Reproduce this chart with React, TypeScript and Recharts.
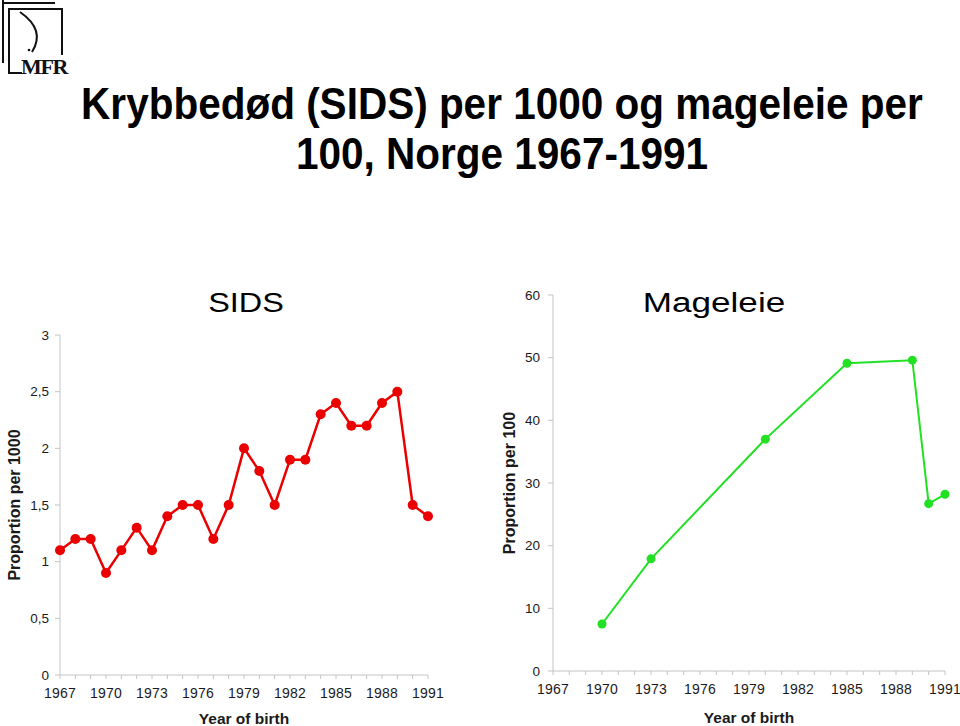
import React from 'react';
import { LineChart, Line, XAxis, YAxis } from 'recharts';

// SIDS per 1000 births, Norway
const sidsYears = [
  1967, 1968, 1969, 1970, 1971, 1972, 1973, 1974, 1975, 1976, 1977, 1978, 1979,
  1980, 1981, 1982, 1983, 1984, 1985, 1986, 1987, 1988, 1989, 1990, 1991,
];
const sidsValues = [
  1.1, 1.2, 1.2, 0.9, 1.1, 1.3, 1.1, 1.4, 1.5, 1.5, 1.2, 1.5, 2.0,
  1.8, 1.5, 1.9, 1.9, 2.3, 2.4, 2.2, 2.2, 2.4, 2.5, 1.5, 1.4,
];

// Mageleie (prone sleeping) per 100
const magYears = [1970, 1973, 1980, 1985, 1989, 1990, 1991];
const magValues = [7.5, 17.9, 37.0, 49.1, 49.6, 26.7, 28.2];

const sidsTicks = [0, 0.5, 1, 1.5, 2, 2.5, 3];
const magTicks = [0, 10, 20, 30, 40, 50, 60];

const sidsData = sidsYears.map((year, i) => ({ year, value: sidsValues[i] }));
const magData = magYears.map((year, i) => ({ year, value: magValues[i] }));

const axisGray = '#c4c4c4';
const textColor = '#1a1a1a';
const font = '"Liberation Sans", Arial, Helvetica, sans-serif';

const yearTick = (props: any) => {
  const { x, y, payload } = props;
  if ((payload.value - 1967) % 3 !== 0) return <g />;
  return (
    <text x={x} y={y} dy="0.71em" textAnchor="middle" fontSize={14} letterSpacing={0.2} fill={textColor}>
      {payload.value}
    </text>
  );
};

const comma = (v: number) => String(v).replace('.', ',');

const Logo = () => (
  <svg width={80} height={80} style={{ position: 'absolute', left: 0, top: 0 }}>
    <g stroke="#111" strokeWidth={2} fill="none">
      <line x1={3} y1={0} x2={3} y2={63} />
      <line x1={2} y1={3} x2={55} y2={3} />
      <line x1={9} y1={8} x2={9} y2={74} />
      <line x1={8} y1={9} x2={63} y2={9} />
      <line x1={62} y1={8} x2={62} y2={55} />
      <line x1={8} y1={73} x2={22} y2={73} />
      <path d="M20 12 Q46 30 32 52" strokeWidth={2} />
    </g>
    <circle cx={29} cy={50} r={1.3} fill="#111" />
    <text x={21} y={74} fontFamily='"Liberation Serif", "Times New Roman", serif' fontWeight="bold" fontSize={22} letterSpacing={-1.3} fill="#111">
      MFR
    </text>
  </svg>
);

export default function App() {
  return (
    <div style={{ position: 'absolute', left: 0, top: 0, width: 960, height: 726, background: '#fff', fontFamily: font, color: '#000', overflow: 'hidden' }}>
      <Logo />

      <div style={{ position: 'absolute', left: 2, top: 79, width: 1000, textAlign: 'center', whiteSpace: 'nowrap', fontSize: 45, fontWeight: 'bold', lineHeight: '50px', transform: 'scaleX(0.9)' }}>
        Krybbedød (SIDS) per 1000 og mageleie per
        <br />
        100, Norge 1967-1991
      </div>

      <div style={{ position: 'absolute', left: 146, top: 286, width: 200, textAlign: 'center', fontSize: 27, lineHeight: '34px', transform: 'scaleX(1.2)' }}>
        SIDS
      </div>
      <div style={{ position: 'absolute', left: 614, top: 286, width: 200, textAlign: 'center', fontSize: 27, lineHeight: '34px', transform: 'scaleX(1.3)' }}>
        Mageleie
      </div>

      <div style={{ position: 'absolute', left: 0, top: 300 }}>
        <LineChart width={470} height={426} data={sidsData} margin={{ top: 35, right: 42, bottom: 0, left: 0 }}>
          <XAxis
            dataKey="year"
            type="number"
            domain={[1967, 1991]}
            ticks={sidsYears}
            interval={0}
            height={51}
            stroke={axisGray}
            tickSize={4}
            tickMargin={9}
            tick={yearTick}
            label={{ value: 'Year of birth', position: 'insideBottom', offset: 2, fill: textColor, fontWeight: 'bold', fontSize: 15.5 }}
          />
          <YAxis
            type="number"
            domain={[0, 3]}
            ticks={sidsTicks}
            width={60}
            stroke={axisGray}
            tickSize={5}
            tickMargin={6}
            tickFormatter={comma}
            tick={{ fontSize: 13.5, fill: textColor }}
            label={{ value: 'Proportion per 1000', angle: -90, position: 'insideLeft', offset: 14, fill: textColor, fontWeight: 'bold', fontSize: 16, style: { textAnchor: 'middle' } }}
          />
          <Line
            dataKey="value"
            stroke="#ea0000"
            strokeWidth={2.5}
            dot={{ r: 5, fill: '#ea0000', stroke: '#ea0000', strokeWidth: 0 }}
            isAnimationActive={false}
          />
        </LineChart>
      </div>

      <div style={{ position: 'absolute', left: 480, top: 260 }}>
        <LineChart width={480} height={466} data={magData} margin={{ top: 35, right: 15, bottom: 0, left: 0 }}>
          <XAxis
            dataKey="year"
            type="number"
            domain={[1967, 1991]}
            ticks={sidsYears}
            interval={0}
            height={55}
            stroke={axisGray}
            tickSize={4}
            tickMargin={9}
            tick={yearTick}
            label={{ value: 'Year of birth', position: 'insideBottom', offset: 3, fill: textColor, fontWeight: 'bold', fontSize: 15.5 }}
          />
          <YAxis
            type="number"
            domain={[0, 60]}
            ticks={magTicks}
            width={73}
            stroke={axisGray}
            tickSize={5}
            tickMargin={8}
            tick={{ fontSize: 13.5, fill: textColor }}
            label={{ value: 'Proportion per 100', angle: -90, position: 'insideLeft', offset: 29, fill: textColor, fontWeight: 'bold', fontSize: 16, style: { textAnchor: 'middle' } }}
          />
          <Line
            dataKey="value"
            stroke="#22e022"
            strokeWidth={2}
            dot={{ r: 4.5, fill: '#22e022', stroke: '#22e022', strokeWidth: 0 }}
            isAnimationActive={false}
          />
        </LineChart>
      </div>
    </div>
  );
}
